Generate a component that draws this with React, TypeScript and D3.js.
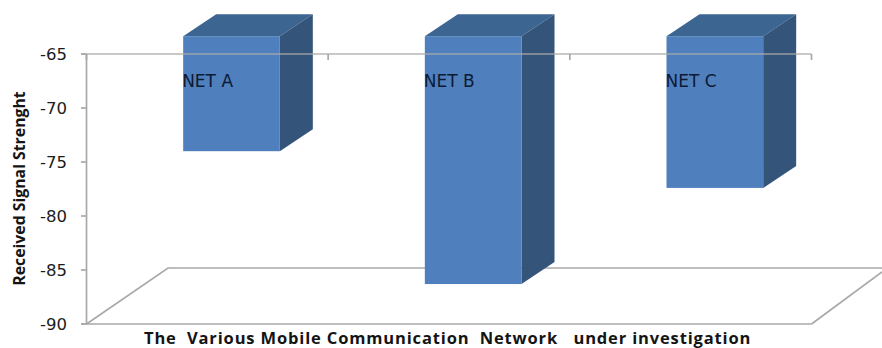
import React from "react";
import * as d3 from "d3";

const categories = ["NET A", "NET B", "NET C"];
const signalValues = [-74.0, -86.3, -77.4];
const yTicks = [-65, -70, -75, -80, -85, -90];
const barCeiling = -63.35;
const xTitle = "The\u00a0\u00a0Various Mobile Communication\u00a0\u00a0Network\u00a0\u00a0\u00a0under investigation";
const yTitle = "Received Signal Strenght";

const W = 882;
const H = 348;
const depthX = 33;
const depthY = -22;
const gridGrey = "#a9a9a9";

const y = d3.scaleLinear().domain([-90, -65]).range([324, 54]);
const x = d3.scaleBand<string>().domain(categories).range([86.5, 811.5]);
const barInset = x.bandwidth() * 0.4;
const barWidth = x.bandwidth() * 0.4;

const poly = d3.line();

export default function App() {
  const slotEdges = [...categories.map((c) => x(c) as number), 811.5];
  const floorY = y(-90);
  const topY = y(-65);

  return (
    <svg width={W} height={H} viewBox={`0 0 ${W} ${H}`}
      style={{ position: "absolute", left: 0, top: 0, background: "#fff" }}>
      {/* floor of the 3D plot, behind the columns */}
      <g fill="none" stroke={gridGrey} strokeWidth={1.7}>
        <path d={poly([[86.5, floorY], [168, 268], [882, 268]]) as string} />
        <path d={poly([[811.5, floorY], [882, 272]]) as string} />
      </g>

      {/* columns hang down from the ceiling value */}
      {categories.map((c, i) => {
        const x0 = (x(c) as number) + barInset;
        const x1 = x0 + barWidth;
        const t = y(barCeiling);
        const b = y(signalValues[i]);
        return (
          <g key={c}>
            <path fill="#3d6592"
              d={poly([[x0, t], [x0 + depthX, t + depthY], [x1 + depthX, t + depthY], [x1, t]]) + "Z"} />
            <path fill="#345479"
              d={poly([[x1, t], [x1 + depthX, t + depthY], [x1 + depthX, b + depthY], [x1, b]]) + "Z"} />
            <rect x={x0} y={t} width={barWidth} height={b - t} fill="#4f80bd" />
          </g>
        );
      })}

      {/* front frame: value axis, top rule and floor edge */}
      <g fill="none" stroke={gridGrey} strokeWidth={1.7}>
        <path d={`M86.5,${topY}V${floorY}`} />
        <path d={`M81,${topY}H811.5`} strokeOpacity={0.85} />
        <path d={`M81,${floorY}H811.5`} />
        {yTicks.map((t) => (
          <path key={t} d={`M81,${y(t)}H86.5`} />
        ))}
        {slotEdges.map((e) => (
          <path key={e} d={`M${e},${topY}v6`} />
        ))}
      </g>

      <g fontFamily="'DejaVu Sans', sans-serif" fontSize={16.5} fill="#1c1c1c" textAnchor="end">
        {yTicks.map((t) => (
          <text key={t} x={67} y={y(t) + 6.3}>{String(t)}</text>
        ))}
      </g>

      <g fontFamily="'DejaVu Sans', sans-serif" fontSize={17} fill="#0c1a33">
        {categories.map((c) => (
          <text key={c} x={(x(c) as number) + barInset - 1} y={87}>{c}</text>
        ))}
      </g>

      <text x={144} y={343.5} fontFamily="'Open Sans', sans-serif" fontWeight={700}
        fontSize={16.5} letterSpacing={0.85} fill="#141414">{xTitle}</text>
      <text transform="translate(25,188.5) rotate(-90)" textAnchor="middle"
        fontFamily="'Open Sans', sans-serif" fontWeight={700} fontSize={15.8} fill="#141414">{yTitle}</text>
    </svg>
  );
}
